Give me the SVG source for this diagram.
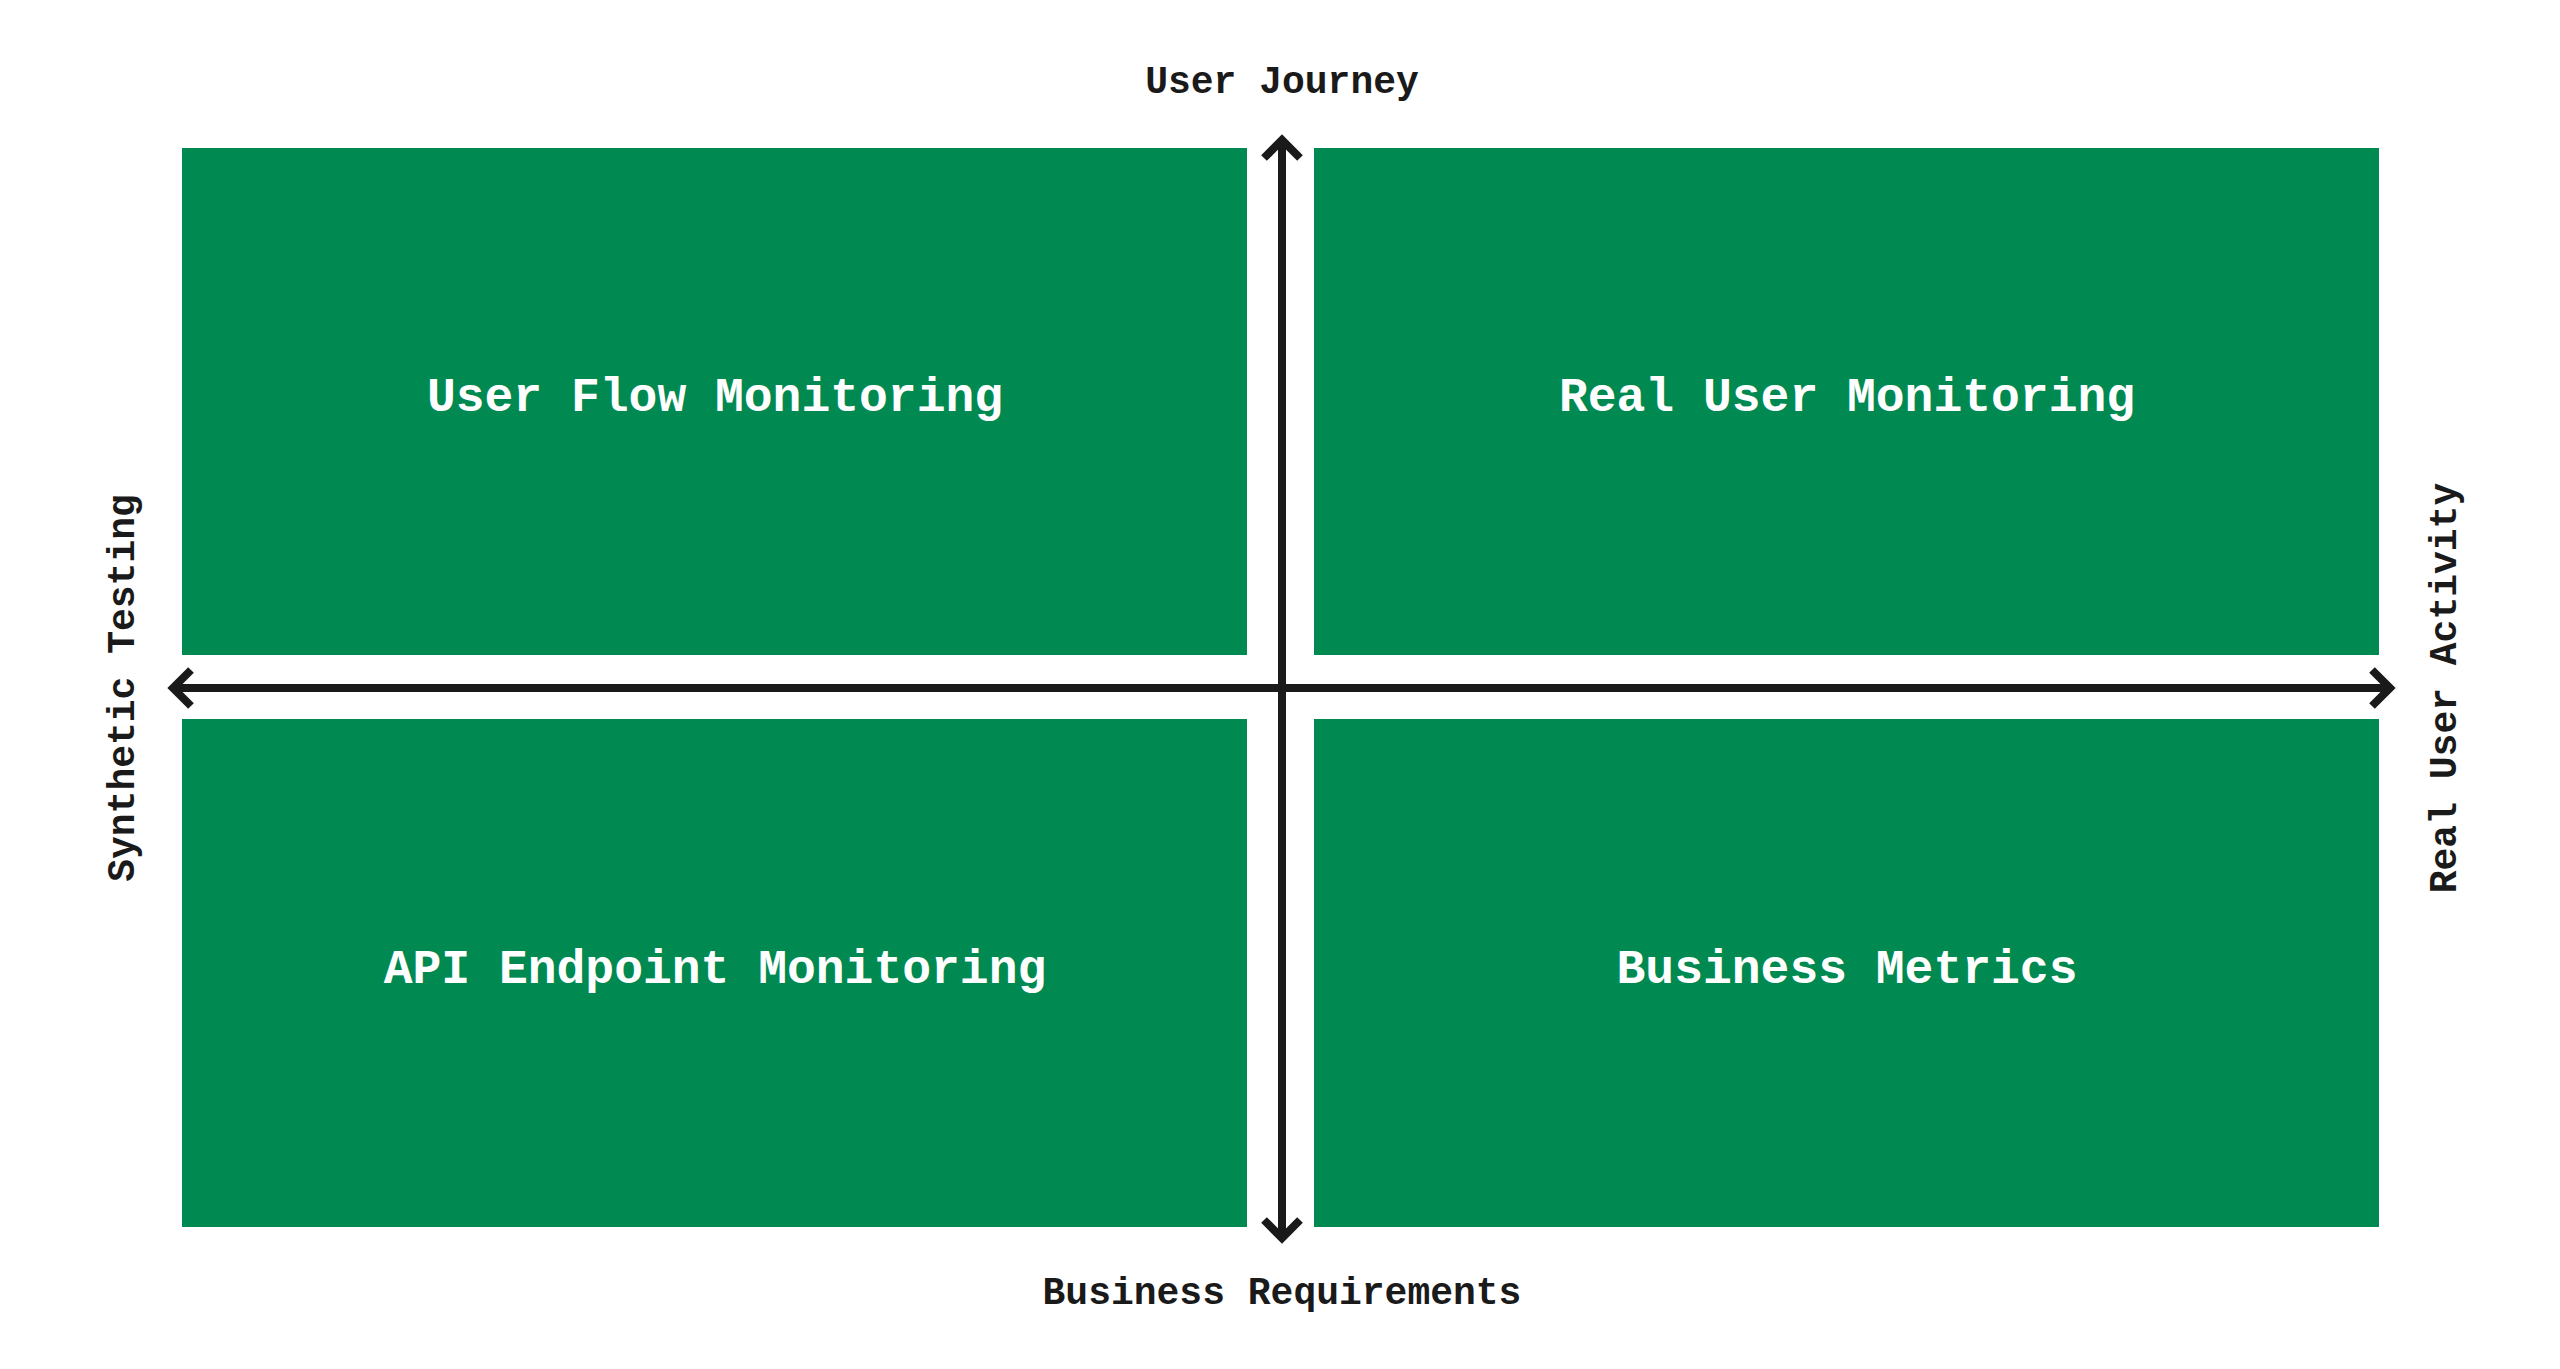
<svg xmlns="http://www.w3.org/2000/svg" width="2560" height="1369" viewBox="0 0 2560 1369">
<style>
.box{fill:#008a52}
.bt{font-family:"Liberation Mono","DejaVu Sans Mono",monospace;font-weight:bold;font-size:48px;fill:#fff;text-anchor:middle;dominant-baseline:central}
.al{font-family:"Liberation Mono","DejaVu Sans Mono",monospace;font-weight:bold;font-size:38px;fill:#1a1a1a;text-anchor:middle;dominant-baseline:central}
.ax{stroke:#1a1a1a;stroke-width:8;fill:none}
</style>
<defs>
<marker id="ah" viewBox="0 0 10 10" refX="9" refY="5" markerWidth="5" markerHeight="5" orient="auto-start-reverse" markerUnits="userSpaceOnUse">
</marker>
</defs>
<rect width="2560" height="1369" fill="#fff"/>
<g id="q1"><rect class="box" x="182" y="148" width="1065" height="507"/><text class="bt" x="715" y="398">User Flow Monitoring</text></g>
<g id="q2"><rect class="box" x="1314" y="148" width="1065" height="507"/><text class="bt" x="1847" y="398">Real User Monitoring</text></g>
<g id="q3"><rect class="box" x="182" y="719" width="1065" height="508"/><text class="bt" x="715" y="970">API Endpoint Monitoring</text></g>
<g id="q4"><rect class="box" x="1314" y="719" width="1065" height="508"/><text class="bt" x="1847" y="970">Business Metrics</text></g>
<g id="connectors">
<line class="ax" x1="1282" y1="142" x2="1282" y2="1236"/>
<line class="ax" x1="175" y1="688" x2="2388" y2="688"/>
<polyline class="ax" points="1264,158 1282,140 1300,158"/>
<polyline class="ax" points="1264,1220 1282,1238 1300,1220"/>
<polyline class="ax" points="191,670 173,688 191,706"/>
<polyline class="ax" points="2372,670 2390,688 2372,706"/>
</g>
<g id="labels">
<text class="al" x="1282" y="82">User Journey</text>
<text class="al" x="1282" y="1293">Business Requirements</text>
<text class="al" transform="translate(123,688) rotate(-90)">Synthetic Testing</text>
<text class="al" transform="translate(2445,688) rotate(-90)">Real User Activity</text>
</g>
</svg>
